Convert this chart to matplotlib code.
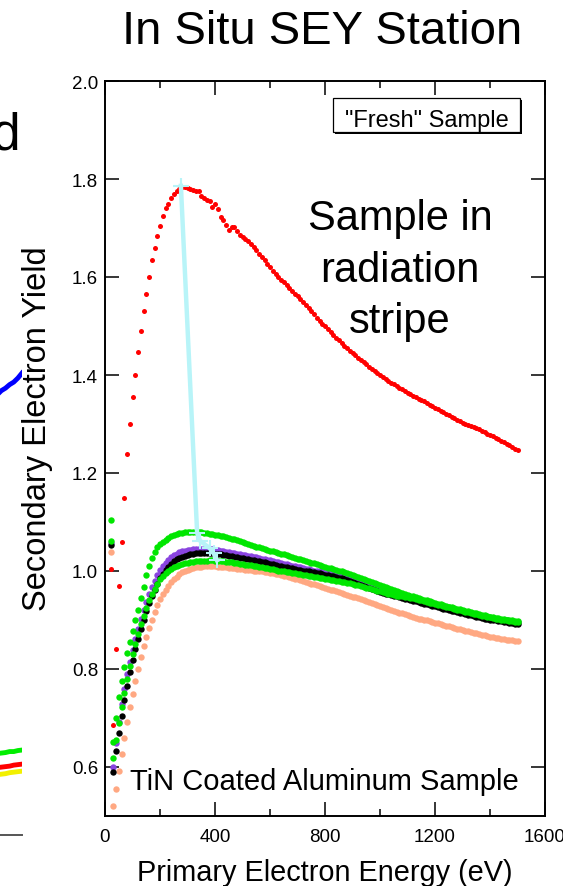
import matplotlib
matplotlib.use("Agg")
import matplotlib.pyplot as plt
from matplotlib.patches import Rectangle
from matplotlib.ticker import MultipleLocator
from matplotlib.transforms import Bbox, TransformedBbox

plt.rcParams["font.family"] = ["Liberation Sans", "DejaVu Sans"]

W, H = 584, 887

# ---------------------------------------------------------------------------
# Data: secondary electron yield vs primary energy (20 .. 1500 eV, 10 eV step)
# ---------------------------------------------------------------------------
energy = [
    20, 30, 40, 50, 60, 70, 80, 90, 100, 110,
    120, 130, 140, 150, 160, 170, 180, 190, 200, 210,
    220, 230, 240, 250, 260, 270, 280, 290, 300, 310,
    320, 330, 340, 350, 360, 370, 380, 390, 400, 410,
    420, 430, 440, 450, 460, 470, 480, 490, 500, 510,
    520, 530, 540, 550, 560, 570, 580, 590, 600, 610,
    620, 630, 640, 650, 660, 670, 680, 690, 700, 710,
    720, 730, 740, 750, 760, 770, 780, 790, 800, 810,
    820, 830, 840, 850, 860, 870, 880, 890, 900, 910,
    920, 930, 940, 950, 960, 970, 980, 990, 1000, 1010,
    1020, 1030, 1040, 1050, 1060, 1070, 1080, 1090, 1100, 1110,
    1120, 1130, 1140, 1150, 1160, 1170, 1180, 1190, 1200, 1210,
    1220, 1230, 1240, 1250, 1260, 1270, 1280, 1290, 1300, 1310,
    1320, 1330, 1340, 1350, 1360, 1370, 1380, 1390, 1400, 1410,
    1420, 1430, 1440, 1450, 1460, 1470, 1480, 1490, 1500,
]

sey_stripe = [  # red, sample in radiation stripe
    1.005, 0.685, 0.840, 0.970, 1.060, 1.150, 1.238, 1.300, 1.355, 1.400,
    1.446, 1.489, 1.530, 1.565, 1.600, 1.635, 1.660, 1.684, 1.704, 1.724,
    1.740, 1.750, 1.761, 1.769, 1.776, 1.780, 1.783, 1.784, 1.782, 1.779,
    1.777, 1.776, 1.775, 1.766, 1.762, 1.758, 1.755, 1.743, 1.750, 1.738,
    1.722, 1.716, 1.707, 1.695, 1.703, 1.702, 1.693, 1.686, 1.682, 1.678,
    1.673, 1.668, 1.661, 1.655, 1.647, 1.641, 1.634, 1.627, 1.620, 1.612,
    1.606, 1.599, 1.594, 1.590, 1.584, 1.578, 1.571, 1.566, 1.561, 1.556,
    1.550, 1.543, 1.536, 1.530, 1.524, 1.517, 1.511, 1.505, 1.499, 1.493,
    1.488, 1.482, 1.476, 1.471, 1.466, 1.460, 1.455, 1.450, 1.445, 1.440,
    1.435, 1.431, 1.426, 1.422, 1.417, 1.413, 1.408, 1.404, 1.399, 1.395,
    1.391, 1.388, 1.384, 1.381, 1.378, 1.374, 1.371, 1.368, 1.364, 1.361,
    1.358, 1.355, 1.352, 1.349, 1.346, 1.343, 1.339, 1.336, 1.333, 1.330,
    1.327, 1.324, 1.321, 1.318, 1.315, 1.312, 1.309, 1.306, 1.303, 1.300,
    1.298, 1.296, 1.294, 1.291, 1.289, 1.286, 1.283, 1.280, 1.278, 1.275,
    1.272, 1.269, 1.266, 1.263, 1.260, 1.257, 1.254, 1.250, 1.246,
]

sey_green_hi = [
    1.104, 0.651, 0.700, 0.742, 0.775, 0.805, 0.832, 0.856, 0.878, 0.899,
    0.920, 0.944, 0.968, 0.991, 1.011, 1.027, 1.039, 1.048, 1.055, 1.060,
    1.064, 1.068, 1.071, 1.073, 1.075, 1.077, 1.078, 1.079, 1.080, 1.080,
    1.080, 1.080, 1.079, 1.079, 1.078, 1.077, 1.076, 1.075, 1.074, 1.073,
    1.072, 1.071, 1.069, 1.068, 1.066, 1.065, 1.063, 1.061, 1.059, 1.057,
    1.056, 1.054, 1.052, 1.050, 1.049, 1.047, 1.045, 1.043, 1.041, 1.040,
    1.038, 1.037, 1.035, 1.034, 1.032, 1.030, 1.029, 1.027, 1.025, 1.024,
    1.022, 1.021, 1.019, 1.017, 1.016, 1.014, 1.012, 1.011, 1.009, 1.007,
    1.006, 1.004, 1.003, 1.001, 0.999, 0.998, 0.996, 0.994, 0.992, 0.990,
    0.988, 0.986, 0.984, 0.982, 0.980, 0.978, 0.976, 0.974, 0.972, 0.970,
    0.968, 0.966, 0.964, 0.962, 0.960, 0.958, 0.956, 0.954, 0.952, 0.950,
    0.948, 0.946, 0.945, 0.943, 0.941, 0.940, 0.938, 0.936, 0.935, 0.933,
    0.932, 0.930, 0.929, 0.927, 0.926, 0.924, 0.923, 0.922, 0.920, 0.919,
    0.918, 0.916, 0.915, 0.914, 0.912, 0.911, 0.910, 0.908, 0.907, 0.906,
    0.905, 0.904, 0.903, 0.902, 0.901, 0.900, 0.899, 0.898, 0.897,
]

sey_purple = [
    1.058, 0.600, 0.650, 0.692, 0.728, 0.760, 0.789, 0.815, 0.839, 0.861,
    0.882, 0.902, 0.920, 0.937, 0.953, 0.967, 0.980, 0.992, 1.002, 1.010,
    1.017, 1.023, 1.028, 1.032, 1.035, 1.038, 1.040, 1.041, 1.042, 1.043,
    1.044, 1.044, 1.045, 1.045, 1.045, 1.045, 1.044, 1.044, 1.043, 1.042,
    1.041, 1.040, 1.039, 1.038, 1.037, 1.036, 1.035, 1.034, 1.033, 1.032,
    1.031, 1.030, 1.029, 1.028, 1.026, 1.025, 1.024, 1.023, 1.022, 1.020,
    1.019, 1.018, 1.016, 1.015, 1.014, 1.013, 1.011, 1.010, 1.009, 1.008,
    1.006, 1.005, 1.004, 1.003, 1.001, 1.000, 0.999, 0.998, 0.996, 0.995,
    0.994, 0.993, 0.991, 0.990, 0.989, 0.988, 0.987, 0.985, 0.983, 0.981,
    0.979, 0.977, 0.976, 0.974, 0.972, 0.970, 0.968, 0.966, 0.964, 0.962,
    0.960, 0.958, 0.957, 0.955, 0.953, 0.951, 0.950, 0.948, 0.947, 0.945,
    0.944, 0.942, 0.941, 0.939, 0.938, 0.936, 0.935, 0.933, 0.932, 0.930,
    0.929, 0.928, 0.926, 0.925, 0.924, 0.922, 0.921, 0.920, 0.918, 0.917,
    0.916, 0.914, 0.913, 0.912, 0.910, 0.909, 0.908, 0.906, 0.905, 0.904,
    0.903, 0.902, 0.901, 0.900, 0.899, 0.898, 0.897, 0.896, 0.896,
]

sey_black = [
    1.053, 0.590, 0.632, 0.670, 0.705, 0.737, 0.766, 0.793, 0.818, 0.841,
    0.862, 0.882, 0.901, 0.918, 0.934, 0.949, 0.962, 0.974, 0.985, 0.994,
    1.002, 1.009, 1.015, 1.020, 1.024, 1.027, 1.029, 1.031, 1.033, 1.034,
    1.035, 1.036, 1.036, 1.037, 1.037, 1.037, 1.036, 1.036, 1.035, 1.035,
    1.034, 1.033, 1.032, 1.031, 1.030, 1.029, 1.028, 1.027, 1.026, 1.025,
    1.024, 1.023, 1.022, 1.021, 1.020, 1.019, 1.018, 1.016, 1.015, 1.014,
    1.012, 1.011, 1.010, 1.009, 1.008, 1.007, 1.006, 1.004, 1.003, 1.002,
    1.001, 1.000, 0.999, 0.998, 0.997, 0.996, 0.995, 0.993, 0.992, 0.991,
    0.990, 0.989, 0.987, 0.986, 0.985, 0.983, 0.982, 0.980, 0.978, 0.976,
    0.974, 0.972, 0.970, 0.968, 0.966, 0.964, 0.962, 0.960, 0.958, 0.956,
    0.954, 0.953, 0.951, 0.949, 0.948, 0.946, 0.945, 0.943, 0.942, 0.941,
    0.939, 0.938, 0.936, 0.935, 0.933, 0.932, 0.930, 0.929, 0.928, 0.926,
    0.925, 0.923, 0.922, 0.921, 0.919, 0.918, 0.917, 0.915, 0.914, 0.913,
    0.911, 0.910, 0.909, 0.907, 0.906, 0.905, 0.903, 0.902, 0.901, 0.900,
    0.899, 0.898, 0.897, 0.896, 0.895, 0.894, 0.893, 0.892, 0.891,
]

sey_green_lo = [
    1.061, 0.618, 0.655, 0.690, 0.722, 0.752, 0.780, 0.806, 0.830, 0.852,
    0.872, 0.891, 0.909, 0.925, 0.940, 0.953, 0.964, 0.974, 0.983, 0.990,
    0.996, 1.001, 1.005, 1.008, 1.011, 1.013, 1.015, 1.016, 1.017, 1.018,
    1.019, 1.020, 1.020, 1.021, 1.021, 1.021, 1.022, 1.022, 1.021, 1.021,
    1.020, 1.020, 1.019, 1.018, 1.018, 1.017, 1.016, 1.015, 1.014, 1.013,
    1.013, 1.012, 1.011, 1.010, 1.009, 1.008, 1.007, 1.006, 1.005, 1.004,
    1.003, 1.001, 1.000, 0.999, 0.998, 0.997, 0.996, 0.995, 0.994, 0.993,
    0.992, 0.991, 0.990, 0.989, 0.988, 0.987, 0.986, 0.985, 0.984, 0.983,
    0.982, 0.981, 0.980, 0.979, 0.978, 0.977, 0.976, 0.975, 0.973, 0.972,
    0.971, 0.969, 0.968, 0.966, 0.965, 0.963, 0.962, 0.960, 0.959, 0.957,
    0.956, 0.954, 0.953, 0.951, 0.950, 0.949, 0.948, 0.947, 0.946, 0.945,
    0.944, 0.943, 0.941, 0.940, 0.938, 0.937, 0.935, 0.934, 0.933, 0.931,
    0.930, 0.928, 0.927, 0.926, 0.924, 0.923, 0.921, 0.920, 0.919, 0.917,
    0.916, 0.915, 0.913, 0.912, 0.911, 0.909, 0.908, 0.907, 0.906, 0.904,
    0.903, 0.902, 0.901, 0.900, 0.899, 0.898, 0.897, 0.896, 0.895,
]

sey_orange = [
    1.039, 0.521, 0.556, 0.592, 0.627, 0.660, 0.692, 0.722, 0.750, 0.776,
    0.801, 0.824, 0.846, 0.866, 0.884, 0.901, 0.916, 0.930, 0.942, 0.953,
    0.962, 0.970, 0.977, 0.983, 0.988, 0.993, 0.997, 1.000, 1.003, 1.005,
    1.007, 1.008, 1.009, 1.009, 1.010, 1.010, 1.010, 1.010, 1.010, 1.009,
    1.009, 1.008, 1.008, 1.007, 1.007, 1.006, 1.005, 1.005, 1.004, 1.003,
    1.003, 1.002, 1.001, 1.000, 0.999, 0.999, 0.998, 0.997, 0.996, 0.995,
    0.994, 0.993, 0.992, 0.990, 0.989, 0.987, 0.986, 0.984, 0.983, 0.981,
    0.979, 0.978, 0.976, 0.974, 0.973, 0.971, 0.969, 0.968, 0.966, 0.964,
    0.962, 0.961, 0.959, 0.957, 0.955, 0.953, 0.951, 0.949, 0.947, 0.946,
    0.944, 0.942, 0.940, 0.938, 0.936, 0.934, 0.932, 0.930, 0.928, 0.926,
    0.925, 0.923, 0.921, 0.919, 0.917, 0.915, 0.914, 0.912, 0.910, 0.908,
    0.907, 0.905, 0.903, 0.902, 0.900, 0.899, 0.897, 0.896, 0.894, 0.893,
    0.891, 0.890, 0.888, 0.887, 0.885, 0.884, 0.882, 0.881, 0.880, 0.878,
    0.877, 0.875, 0.874, 0.873, 0.871, 0.870, 0.869, 0.867, 0.866, 0.865,
    0.864, 0.863, 0.862, 0.861, 0.860, 0.859, 0.859, 0.858, 0.858,
]

# peak positions joined by the cyan trace
peak_energy = [276, 335, 345, 382, 395, 407]
peak_sey = [1.786, 1.078, 1.062, 1.046, 1.036, 1.022]

# right-hand tail of the neighbouring (cut off) panel
prev_energy = [1410, 1425, 1440, 1455, 1470, 1485, 1500]
prev_blue = [1.376, 1.384, 1.389, 1.396, 1.401, 1.409, 1.419]
prev_green = [0.662, 0.663, 0.664, 0.666, 0.666, 0.668, 0.669]
prev_red = [0.634, 0.635, 0.636, 0.637, 0.639, 0.640, 0.641]
prev_yellow = [0.620, 0.621, 0.622, 0.624, 0.625, 0.626, 0.627]

x_ticks = [0, 400, 800, 1200, 1600]
x_labels = ["0", "400", "800", "1200", "1600"]
y_ticks = [0.6, 0.8, 1.0, 1.2, 1.4, 1.6, 1.8, 2.0]
y_labels = ["0.6", "0.8", "1.0", "1.2", "1.4", "1.6", "1.8", "2.0"]


def fx(px):
    return px / W


def fy(py):
    return 1 - py / H


fig = plt.figure(figsize=(W / 100, H / 100), dpi=100)

# ---------------------------------------------------------------------------
# fragment of the neighbouring panel at the left edge
# ---------------------------------------------------------------------------
ax0 = fig.add_axes([0, fy(836), fx(22), fy(82) - fy(836)])
ax0.set_xlim(1420, 1500)
ax0.set_ylim(0.5, 2.0)
for side in ["top", "left", "right"]:
    ax0.spines[side].set_visible(False)
ax0.spines["bottom"].set_color("#555555")
ax0.spines["bottom"].set_linewidth(1.4)
ax0.set_xticks([])
ax0.set_yticks([])
ax0.patch.set_alpha(0)
ax0.plot(prev_energy, prev_blue, color="#0000FF", lw=3.5)
ax0.plot(prev_energy, prev_green, color="#00EE00", lw=3.5)
ax0.plot(prev_energy, prev_yellow, color="#F2F000", lw=3.5)
ax0.plot(prev_energy, prev_red, color="#FF0000", lw=3.5)
fig.text(fx(20), fy(150), "d", fontsize=37, ha="right", va="baseline")

# ---------------------------------------------------------------------------
# main panel
# ---------------------------------------------------------------------------
ax = fig.add_axes([fx(105), fy(817), fx(545) - fx(105), fy(82) - fy(817)])
ax.set_xlim(0, 1600)
ax.set_ylim(0.5, 2.0)

ms = 4.6
ax.plot(energy, sey_orange, "o", ms=ms, mec="none", color="#FFA882")
ax.plot(energy, sey_purple, "o", ms=ms, mec="none", color="#8A44E0")
ax.plot(energy, sey_black, "o", ms=ms, mec="none", color="#000000")
ax.plot(energy, sey_green_lo, "o", ms=ms, mec="none", color="#00E600")
ax.plot(energy, sey_green_hi, "o", ms=ms, mec="none", color="#00E600")
ax.plot(energy, sey_stripe, "o", ms=3.6, mec="none", color="#FF0000")
ax.plot(peak_energy, peak_sey, color="#B8F4F8", lw=3.2, marker="+",
        ms=12, mew=1.5, zorder=5)

ax.set_xticks(x_ticks)
ax.set_xticklabels(x_labels)
ax.xaxis.set_minor_locator(MultipleLocator(200))
ax.set_yticks(y_ticks)
ax.set_yticklabels(y_labels)
ax.tick_params(which="both", direction="in", top=True, right=True,
               width=1.1, labelsize=13.5)
ax.tick_params(which="major", length=10)
ax.tick_params(which="minor", length=5)
ax.tick_params(axis="x", pad=9)
ax.tick_params(axis="y", pad=5)
for s in ax.spines.values():
    s.set_linewidth(1.4)

# the last x label is cut by the edge of the slide
clip = TransformedBbox(Bbox([[0, 0], [563 / W, 1]]), fig.transFigure)
last = ax.xaxis.get_major_ticks()[-1].label1
last.set_clip_box(clip)
last.set_clip_on(True)

# titles and labels
fig.text(fx(322), fy(44), "In Situ SEY Station", fontsize=34,
         ha="center", va="baseline")
fig.text(fx(325), fy(881.5), "Primary Electron Energy (eV)", fontsize=20.8,
         ha="center", va="baseline")
fig.text(fx(38), fy(429), "Secondary Electron Yield", fontsize=23.5,
         rotation=90, ha="center", va="center")

for txt, base in [("Sample in", 230), ("radiation", 282), ("stripe", 333)]:
    fig.text(fx(400), fy(base), txt, fontsize=30, ha="center", va="baseline")

fig.text(fx(130), fy(790), "TiN Coated Aluminum Sample", fontsize=21,
         ha="left", va="baseline")

# "Fresh" Sample box with drop shadow
fig.patches.append(Rectangle((fx(335), fy(135)), fx(187), fy(99) - fy(133),
                             transform=fig.transFigure, facecolor="black",
                             edgecolor="none", zorder=3))
fig.patches.append(Rectangle((fx(333), fy(133)), fx(187), fy(99) - fy(133),
                             transform=fig.transFigure, facecolor="white",
                             edgecolor="black", lw=0.9, zorder=4))
fig.text(fx(427), fy(126.5), '"Fresh" Sample', fontsize=17,
         ha="center", va="baseline", zorder=5)

fig.savefig("out.png", dpi=100)
